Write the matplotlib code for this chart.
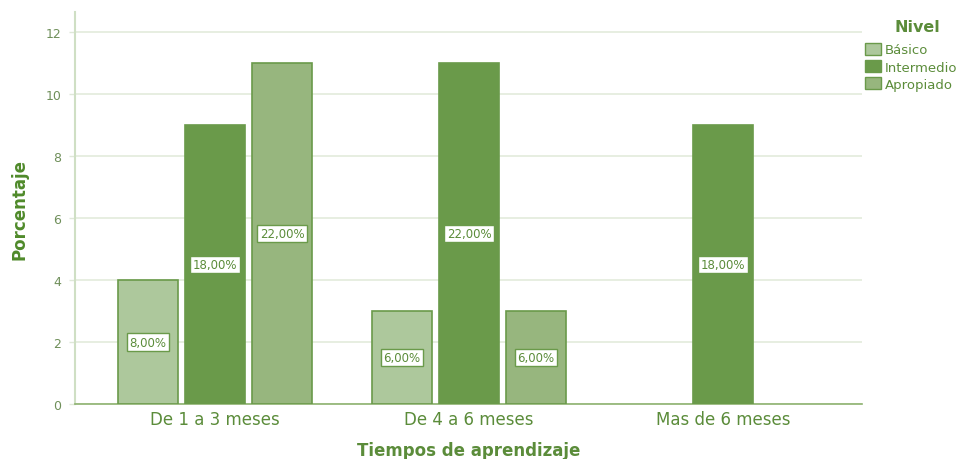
import numpy as np
from matplotlib import pyplot as plt
from matplotlib.patches import Patch

categories = ['De 1 a 3 meses', 'De 4 a 6 meses', 'Mas de 6 meses']
niveles = ['Básico', 'Intermedio', 'Apropiado']
basico = [4, 3, 0]
intermedio = [9, 11, 9]
apropiado = [11, 3, 0]
pct_basico = ['8,00%', '6,00%', '']
pct_intermedio = ['18,00%', '22,00%', '18,00%']
pct_apropiado = ['22,00%', '6,00%', '']

colors = ['#adc89c', '#6a9a4a', '#97b67e']
edge = '#6a9a4a'
txt = '#5b8c3a'

fig = plt.figure(figsize=(9.71, 4.6), dpi=100)
ax = fig.add_axes([0.0772, 0.1196, 0.8105, 0.852])

x = np.arange(len(categories))
w = 0.236
step = 0.264
series = [basico, intermedio, apropiado]
labels = [pct_basico, pct_intermedio, pct_apropiado]
for i, (vals, labs) in enumerate(zip(series, labels)):
    pos = x + (i - 1) * step
    for p, v, l in zip(pos, vals, labs):
        if v <= 0:
            continue
        ax.bar(p, v, width=w, color=colors[i], edgecolor=edge, linewidth=1.2, zorder=3)
        ax.text(p, v / 2, l, ha='center', va='center', fontsize=8.5, color=txt, zorder=4,
                bbox=dict(boxstyle='square,pad=0.2', fc='white', ec=edge, lw=1))

ax.set_xlim(-0.551, 2.547)
ax.set_ylim(0, 12.65)
ax.set_yticks(range(0, 13, 2))
ax.set_xticks(x)
ax.set_xticklabels(categories, fontsize=12, color=txt)
ax.tick_params(axis='x', length=0, pad=4)
ax.tick_params(axis='y', labelsize=9, length=4, width=1, color='#dfe8d8', pad=6)
for t in ax.get_yticklabels():
    t.set_color('#6f8f5a')
ax.grid(axis='y', color='#e3ebdc', linewidth=1.2, zorder=0)
for s in ['top', 'right']:
    ax.spines[s].set_visible(False)
ax.spines['left'].set_color('#cfdfc4')
ax.spines['left'].set_linewidth(1.5)
ax.spines['bottom'].set_color('#8db270')
ax.spines['bottom'].set_linewidth(1.2)

ax.set_xlabel('Tiempos de aprendizaje', fontsize=12, fontweight='bold', color=txt, labelpad=9.5)
ax.set_ylabel('Porcentaje', fontsize=12, fontweight='bold', color='#4f8a2a', labelpad=12)

fig.text(0.945, 0.94, 'Nivel', ha='center', va='center', fontsize=11.5,
         fontweight='bold', color=txt)
handles = [Patch(facecolor=c, edgecolor=edge) for c in colors]
leg = fig.legend(handles, niveles, loc='upper left', bbox_to_anchor=(0.891, 0.905),
                 frameon=False, fontsize=9.5, handlelength=1.2, handleheight=1.0,
                 handletextpad=0.3, labelspacing=0.3, borderaxespad=0, borderpad=0)
for t in leg.get_texts():
    t.set_color(txt)

fig.savefig('out.png', dpi=100)
